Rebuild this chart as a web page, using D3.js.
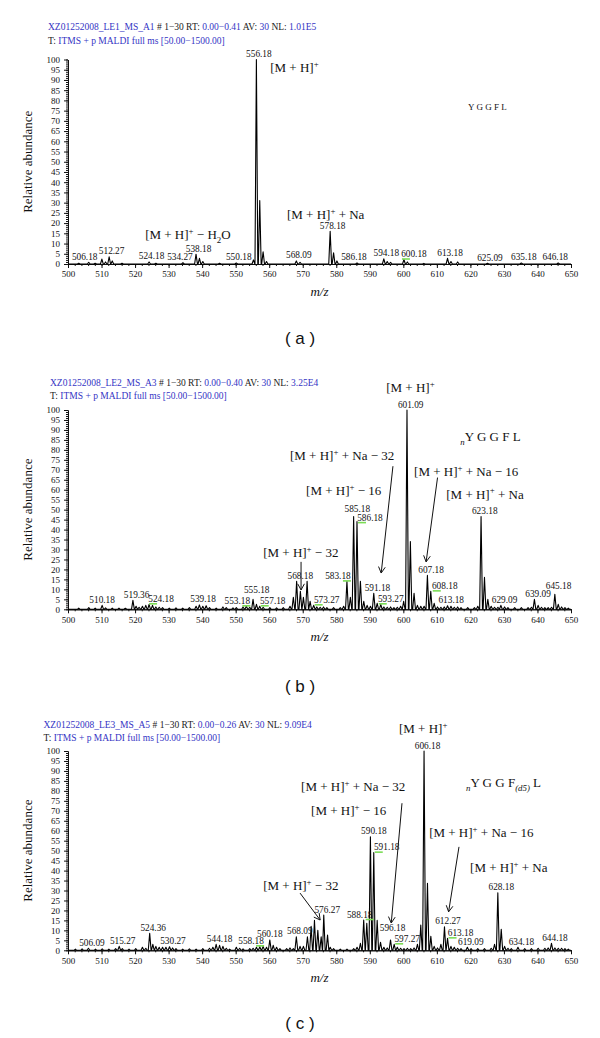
<!DOCTYPE html>
<html>
<head>
<meta charset="utf-8">
<script src="https://cdn.jsdelivr.net/npm/d3@7"></script>
<style>
  body { margin: 0; background: #fff; }
  svg text { font-family: "Liberation Serif", "Times New Roman", serif; }
</style>
</head>
<body>
<div id="chart"></div>
<script>
// ---- data: [m/z, relative abundance] ----
var peaksA = [
  [503.2, 0.4], [506.18, 0.8], [508.1, 0.4], [510.1, 2.4], [511.2, 1.0], [512.27, 3.5], [513.2, 1.5],
  [516.1, 0.4], [524.18, 1.0], [526.2, 0.4], [534.27, 0.6], [538.18, 4.8], [539.2, 2.8], [540.2, 1.2],
  [545.2, 0.4], [550.18, 0.5], [555.3, 2.0], [556.18, 100], [557.18, 31], [558.18, 6], [559.2, 1.2],
  [568.09, 1.5], [569.2, 0.8], [578.18, 16], [579.2, 5.5], [580.2, 1.5], [586.18, 0.5], [594.18, 2.5],
  [595.2, 1.2], [596.2, 0.8], [600.18, 2.2], [601.2, 1.0], [606.1, 0.3], [613.18, 2.8], [614.2, 1.2],
  [616.2, 1.0], [625.09, 0.4], [635.18, 0.5], [646.18, 0.5]
];
var peaksB = [
  [503.2, 0.6], [506.2, 0.8], [508.1, 0.6], [510.18, 2], [511.2, 0.7], [513.2, 0.6], [515.2, 0.6],
  [517.1, 0.5], [519.36, 4.5], [520.3, 1.5], [521.2, 1], [522.2, 1.5], [523.2, 2], [524.18, 2.5],
  [525.2, 2], [526.2, 1.2], [527.2, 1], [528.2, 0.8], [530.2, 0.6], [532.2, 0.7], [534.2, 0.6],
  [536.2, 0.8], [538.2, 1.5], [539.18, 2.2], [540.2, 1.5], [541.2, 1.8], [542.2, 0.8], [544.2, 0.6],
  [546.2, 1.2], [547.2, 0.8], [549.2, 0.7], [550.2, 0.8], [552.2, 1.2], [553.18, 1.5], [554.2, 1],
  [555.18, 5], [556.2, 2.5], [557.18, 1.5], [558.2, 1], [560.2, 0.8], [562.2, 0.7], [564.2, 0.8],
  [566.2, 1.5], [567.2, 6], [568.18, 14], [569.3, 9], [570.2, 6], [571.3, 14], [572.2, 4],
  [573.27, 2], [574.2, 1.2], [575.2, 1], [576.2, 1.2], [577.2, 0.8], [579.2, 0.8], [581.2, 0.8],
  [582.2, 1.5], [583.18, 14], [584.2, 6], [585.18, 46.5], [586.18, 44], [587.2, 14], [588.2, 4],
  [589.2, 2], [590.2, 1.5], [591.18, 8], [592.2, 3], [593.27, 2.5], [594.2, 1.2], [595.2, 1],
  [596.2, 1.2], [597.2, 0.8], [598.2, 1], [599.2, 1.5], [600.1, 4], [601.09, 100], [602.1, 34],
  [603.2, 8], [604.2, 2], [605.2, 1.5], [606.2, 1.5], [607.18, 17], [608.18, 9], [609.2, 3],
  [610.2, 1.2], [611.2, 1], [612.2, 1.2], [613.18, 1.8], [614.2, 1.5], [615.2, 1], [616.2, 1.2],
  [617.2, 0.8], [619.2, 0.8], [621.2, 0.8], [622.2, 1.5], [623.18, 46.5], [624.2, 16], [625.2, 5],
  [626.2, 1.5], [627.2, 1], [628.2, 1], [629.09, 2], [630.2, 1.2], [631.2, 0.8], [633.2, 0.8],
  [635.2, 0.8], [637.2, 0.8], [638.2, 1], [639.09, 5], [640.2, 2], [641.2, 1], [642.2, 0.8],
  [643.2, 0.8], [644.2, 1], [645.18, 7.5], [646.2, 2.5], [647.2, 1.2], [648.2, 0.8], [649.2, 0.6]
];
var peaksC = [
  [502.2, 0.6], [504.2, 0.7], [506.09, 1], [508.2, 0.6], [510.2, 0.7], [512.2, 0.6], [514.2, 0.8],
  [515.27, 2], [516.2, 0.8], [518.2, 0.6], [520.2, 0.8], [522.2, 1.5], [523.2, 1], [524.36, 8.5],
  [525.3, 3], [526.2, 2], [527.2, 1.5], [528.2, 1.5], [529.2, 1.5], [530.27, 1.8], [531.2, 1.2],
  [532.2, 0.8], [534.2, 0.6], [536.2, 0.7], [538.2, 0.6], [540.2, 0.8], [542.2, 1], [543.2, 1.5],
  [544.18, 3], [545.2, 2.5], [546.2, 2], [547.2, 1], [548.2, 0.6], [550.2, 1.5], [551.2, 1],
  [552.2, 0.7], [554.2, 0.8], [555.2, 1], [556.2, 1.5], [557.2, 1.8], [558.18, 2], [559.2, 1.5],
  [560.18, 5.2], [561.2, 2.5], [562.2, 1.5], [563.2, 0.8], [565.2, 0.8], [566.2, 1.2], [567.2, 0.8],
  [568.09, 6.8], [569.2, 2], [570.2, 2], [571.4, 6.8], [572.5, 12], [573.5, 15], [574.5, 10],
  [575.5, 6.8], [576.27, 17.7], [577.4, 7.6], [578.2, 1.5], [579.2, 0.8], [581.2, 0.6], [583.2, 0.6],
  [585.2, 0.8], [586.2, 1.5], [587.2, 3.5], [588.18, 15.2], [589.1, 13.5], [590.18, 57], [591.18, 49],
  [592.2, 15], [593.2, 4], [594.2, 1.5], [595.2, 1.2], [596.18, 5.2], [597.27, 3], [598.2, 1.5],
  [599.2, 1], [600.2, 0.8], [601.2, 1], [602.2, 0.8], [603.2, 1.2], [604.2, 3], [605.2, 12.7],
  [606.18, 100], [607.2, 33.6], [608.2, 7], [609.2, 2], [610.2, 1.2], [611.2, 3], [612.27, 11.8],
  [613.18, 6], [614.2, 2], [615.2, 1.5], [616.2, 1], [617.2, 0.8], [619.09, 1.5], [620.2, 0.8],
  [622.2, 0.8], [624.2, 0.8], [626.2, 1], [627.2, 3], [628.18, 28.9], [629.2, 10.5], [630.2, 2],
  [631.2, 1], [632.2, 0.8], [634.18, 1.5], [636.2, 0.8], [638.2, 0.8], [640.2, 1], [642.2, 1],
  [643.2, 1.2], [644.18, 3.5], [645.2, 1.2], [646.2, 1], [647.2, 1], [648.2, 0.8], [649.2, 0.6]
];

// peak labels (m/z values printed above peaks)
var labelsA = ["506.18", "512.27", "524.18", "534.27", "538.18", "550.18", "556.18", "568.09",
  "578.18", "586.18", "594.18", "600.18", "613.18", "625.09", "635.18", "646.18"];
var labelsB = ["510.18", "519.36", "524.18", "539.18", "553.18", "555.18", "557.18", "568.18",
  "573.27", "583.18", "585.18", "586.18", "591.18", "593.27", "601.09", "607.18", "608.18",
  "613.18", "623.18", "629.09", "639.09", "645.18"];
var labelsC = ["506.09", "515.27", "524.36", "530.27", "544.18", "558.18", "560.18", "568.09",
  "576.27", "588.18", "590.18", "591.18", "596.18", "597.27", "606.18", "612.27", "613.18",
  "619.09", "628.18", "634.18", "644.18"];

// labels carrying a green mark in the original
var greenA = ["600.18"];
var greenB = ["524.18", "553.18", "557.18", "573.27", "583.18", "586.18", "593.27", "608.18"];
var greenC = ["558.18", "588.18", "591.18", "597.27", "613.18"];

// header texts
var fileNames = ["XZ01252008_LE1_MS_A1", "XZ01252008_LE2_MS_A3", "XZ01252008_LE3_MS_A5"];
var rtRanges = ["0.00\u22120.41", "0.00\u22120.40", "0.00\u22120.26"];
var nlValues = ["1.01E5", "3.25E4", "9.09E4"];
var panelTags = ["( a )", "( b )", "( c )"];

var xTicks = d3.range(500, 651, 10);
var yTicks = d3.range(0, 101, 5);

// ---- layout ----
var blue = "#3434c4";
var svg = d3.select("#chart").append("svg")
  .attr("width", 600)
  .attr("height", 1038)
  .style("background", "#fff");

var x = d3.scaleLinear().domain([500, 650]).range([68, 571]);

// label offsets (px) where the instrument software moved the label
var shiftA = { "506.18": -4, "534.27": -3, "586.18": -3, "600.18": 10, "646.18": -3 };
var shiftB = { "510.18": 0, "524.18": 12, "553.18": -9, "557.18": 13, "573.27": 13, "583.18": -9,
  "586.18": 13, "593.27": 10, "608.18": 14 };
var shiftC = { "558.18": -12, "560.18": 0, "588.18": -4, "591.18": 13, "597.27": 13, "613.18": 13,
  "596.18": 2 };
// extra lift (px) for some labels
var liftB = { "555.18": 4, "585.18": 2, "586.18": -1.5, "645.18": 3 };
var liftC = { "596.18": 6 };

var ION = [["[M + H]"], ["+", "sup"]];
function ion(rest) { return ION.concat(rest ? [[rest]] : []); }

var panels = [
  { peaks: peaksA, labels: labelsA, green: greenA, shift: shiftA, lift: {}, dx: 2.5,
    top: 59.5, bottom: 264, hx: 48, hy: 30, tagY: 344,
    notes: [
      { mz: 560.3, ab: 94, parts: ion() },
      { mz: 619.3, ab: 75.3, size: 9, parts: [["Y G G F L"]] },
      { mz: 523, ab: 12.2, parts: ion(" \u2212 H").concat([["2", "sub"], ["O"]]) },
      { mz: 565.3, ab: 21.8, parts: ion(" + Na") }
    ],
    arrows: [] },
  { peaks: peaksB, labels: labelsB, green: greenB, shift: shiftB, lift: liftB, dx: 3.7,
    top: 410, bottom: 609.3, hx: 50, hy: 385.5, tagY: 692,
    notes: [
      { mz: 594.9, ab: 108.8, parts: ion() },
      { mz: 617, ab: 84.3, parts: [["n", "subi"], ["Y G G F L"]] },
      { mz: 566.2, ab: 75, parts: ion(" + Na \u2212 32") },
      { mz: 571, ab: 57.5, parts: ion(" \u2212 16") },
      { mz: 603.2, ab: 67, parts: ion(" + Na \u2212 16") },
      { mz: 612.8, ab: 55.5, parts: ion(" + Na") },
      { mz: 558.2, ab: 26, parts: ion(" \u2212 32") }
    ],
    arrows: [[596.9, 71.8, 593.4, 18.2], [610.2, 66.1, 606.8, 23.8], [569.5, 23.8, 569.5, 9.7]] },
  { peaks: peaksC, labels: labelsC, green: greenC, shift: shiftC, lift: liftC, dx: 3.5,
    top: 751, bottom: 950.3, hx: 43.5, hy: 727.5, tagY: 1029,
    notes: [
      { mz: 598.7, ab: 108.8, parts: ion() },
      { mz: 618.7, ab: 81.8, parts: [["n", "subi"], ["Y G G F"], ["(d5)", "subi"], [" L"]] },
      { mz: 569.5, ab: 80, parts: ion(" + Na \u2212 32") },
      { mz: 572.5, ab: 67.8, parts: ion(" \u2212 16") },
      { mz: 607.7, ab: 56.7, parts: ion(" + Na \u2212 16") },
      { mz: 619.9, ab: 39.2, parts: ion(" + Na") },
      { mz: 558.2, ab: 30.2, parts: ion(" \u2212 32") }
    ],
    arrows: [[599.6, 73.8, 596.4, 13.7], [616.6, 51.9, 613.5, 19.3], [569.2, 28.7, 575.2, 15.2]] }
];

function richText(g, px, py, parts, size) {
  var t = g.append("text").attr("x", px).attr("y", py).style("font-size", size + "px").attr("fill", "#111");
  var off = 0;
  parts.forEach(function(p) {
    var kind = p[1] || "";
    var want = kind === "sup" ? -size * 0.4 : (kind === "sub" || kind === "subi") ? size * 0.28 : 0;
    var s = t.append("tspan").attr("dy", want - off).text(p[0]);
    if (kind) s.style("font-size", (size * 0.68) + "px");
    if (kind === "subi") s.style("font-style", "italic");
    off = want;
  });
  return t;
}

var hw = 0.42; // half width of a drawn peak, in m/z

panels.forEach(function(p, pi) {
  var y = d3.scaleLinear().domain([0, 100]).range([p.bottom, p.top]);
  var g = svg.append("g");

  // header lines
  var h1 = g.append("text").attr("x", p.hx).attr("y", p.hy).style("font-size", "9.5px");
  [[fileNames[pi], blue], [" # 1\u221230 ", "#222"], ["RT: ", "#222"], [rtRanges[pi], blue],
   [" AV: ", "#222"], ["30", blue], [" NL: ", "#222"], [nlValues[pi], blue]].forEach(function(s) {
    h1.append("tspan").attr("fill", s[1]).text(s[0]);
  });
  var h2 = g.append("text").attr("x", p.hx).attr("y", p.hy + 13.5).style("font-size", "9.5px");
  h2.append("tspan").attr("fill", "#222").text("T: ");
  h2.append("tspan").attr("fill", blue).text("ITMS + p MALDI full ms [50.00\u22121500.00]");

  // axes
  var yMinor = g.append("g").attr("transform", "translate(68,0)")
    .call(d3.axisLeft(y).tickValues(d3.range(0, 101, 1)).tickSize(2).tickSizeOuter(0).tickFormat(""));
  var yAx = g.append("g").attr("transform", "translate(68,0)")
    .call(d3.axisLeft(y).tickValues(yTicks).tickSize(4).tickPadding(4).tickSizeOuter(0));
  var xMinor = g.append("g").attr("transform", "translate(0," + p.bottom + ")")
    .call(d3.axisBottom(x).tickValues(d3.range(500, 651, 2)).tickSize(2).tickSizeOuter(0).tickFormat(""));
  var xAx = g.append("g").attr("transform", "translate(0," + p.bottom + ")")
    .call(d3.axisBottom(x).tickValues(xTicks).tickSize(4).tickPadding(3).tickSizeOuter(0));
  [yMinor, yAx, xMinor, xAx].forEach(function(a) {
    a.attr("font-family", null).attr("font-size", null);
    a.selectAll("text").style("font-size", "9px").attr("fill", "#111");
    a.selectAll("line,path").attr("stroke", "#111");
  });

  // spectrum profile
  var pts = [[500, 0]];
  p.peaks.forEach(function(d) {
    pts.push([d[0] - hw, 0], [d[0], d[1]], [d[0] + hw, 0]);
  });
  pts.push([650, 0]);
  pts.sort(function(a, b) { return a[0] - b[0]; });
  g.append("path")
    .attr("d", d3.line().x(function(d) { return x(d[0]); }).y(function(d) { return y(d[1]); })(pts))
    .attr("fill", "none")
    .attr("stroke", "#000")
    .attr("stroke-width", 1.1)
    .attr("stroke-linejoin", "round");

  // peak labels
  p.labels.forEach(function(lb) {
    var mz = +lb;
    var top = d3.max(p.peaks.filter(function(d) { return Math.abs(d[0] - mz) < 0.6; }), function(d) { return d[1]; }) || 0;
    var by = Math.min(y(top) - 2.5, p.bottom - 3) - (p.lift[lb] || 0);
    var sh = p.shift[lb] !== undefined ? p.shift[lb] : p.dx;
    var cx = x(mz) + sh;
    g.append("text")
      .attr("x", cx).attr("y", by)
      .attr("text-anchor", "middle")
      .style("font-size", "9.3px")
      .attr("fill", "#111")
      .text(lb);
    if (p.green.indexOf(lb) >= 0) {
      var x0 = sh > 5 ? cx - 12 : (sh < -5 ? cx + 5 : x(mz) + 2);
      g.append("line")
        .attr("x1", x0).attr("x2", x0 + 8)
        .attr("y1", by + 2).attr("y2", by + 2)
        .attr("stroke", "#7bdc55").attr("stroke-width", 1.6);
    }
  });

  // annotations
  p.notes.forEach(function(n) {
    richText(g, x(n.mz), y(n.ab), n.parts, n.size || 13);
  });
  p.arrows.forEach(function(a) {
    var x1 = x(a[0]), y1 = y(a[1]), x2 = x(a[2]), y2 = y(a[3]);
    var ang = Math.atan2(y2 - y1, x2 - x1), L = 7, sp = 0.5;
    var d = "M" + x1 + "," + y1 + "L" + x2 + "," + y2 +
      "M" + (x2 - L * Math.cos(ang - sp)) + "," + (y2 - L * Math.sin(ang - sp)) +
      "L" + x2 + "," + y2 +
      "L" + (x2 - L * Math.cos(ang + sp)) + "," + (y2 - L * Math.sin(ang + sp));
    g.append("path").attr("d", d).attr("fill", "none").attr("stroke", "#111").attr("stroke-width", 1);
  });

  // axis titles
  g.append("text")
    .attr("transform", "translate(32," + ((p.top + p.bottom) / 2) + ") rotate(-90)")
    .attr("text-anchor", "middle")
    .style("font-size", "13px")
    .attr("fill", "#111")
    .text("Relative abundance");
  g.append("text")
    .attr("x", (x.range()[0] + x.range()[1]) / 2)
    .attr("y", p.bottom + 32)
    .attr("text-anchor", "middle")
    .style("font-size", "13px")
    .style("font-style", "italic")
    .attr("fill", "#111")
    .text("m/z");

  // panel tag
  g.append("text")
    .attr("x", 300)
    .attr("y", p.tagY)
    .attr("text-anchor", "middle")
    .style("font-family", "'Liberation Sans', Arial, sans-serif")
    .style("font-size", "17px")
    .attr("fill", "#111")
    .text(panelTags[pi]);
});
</script>
</body>
</html>
